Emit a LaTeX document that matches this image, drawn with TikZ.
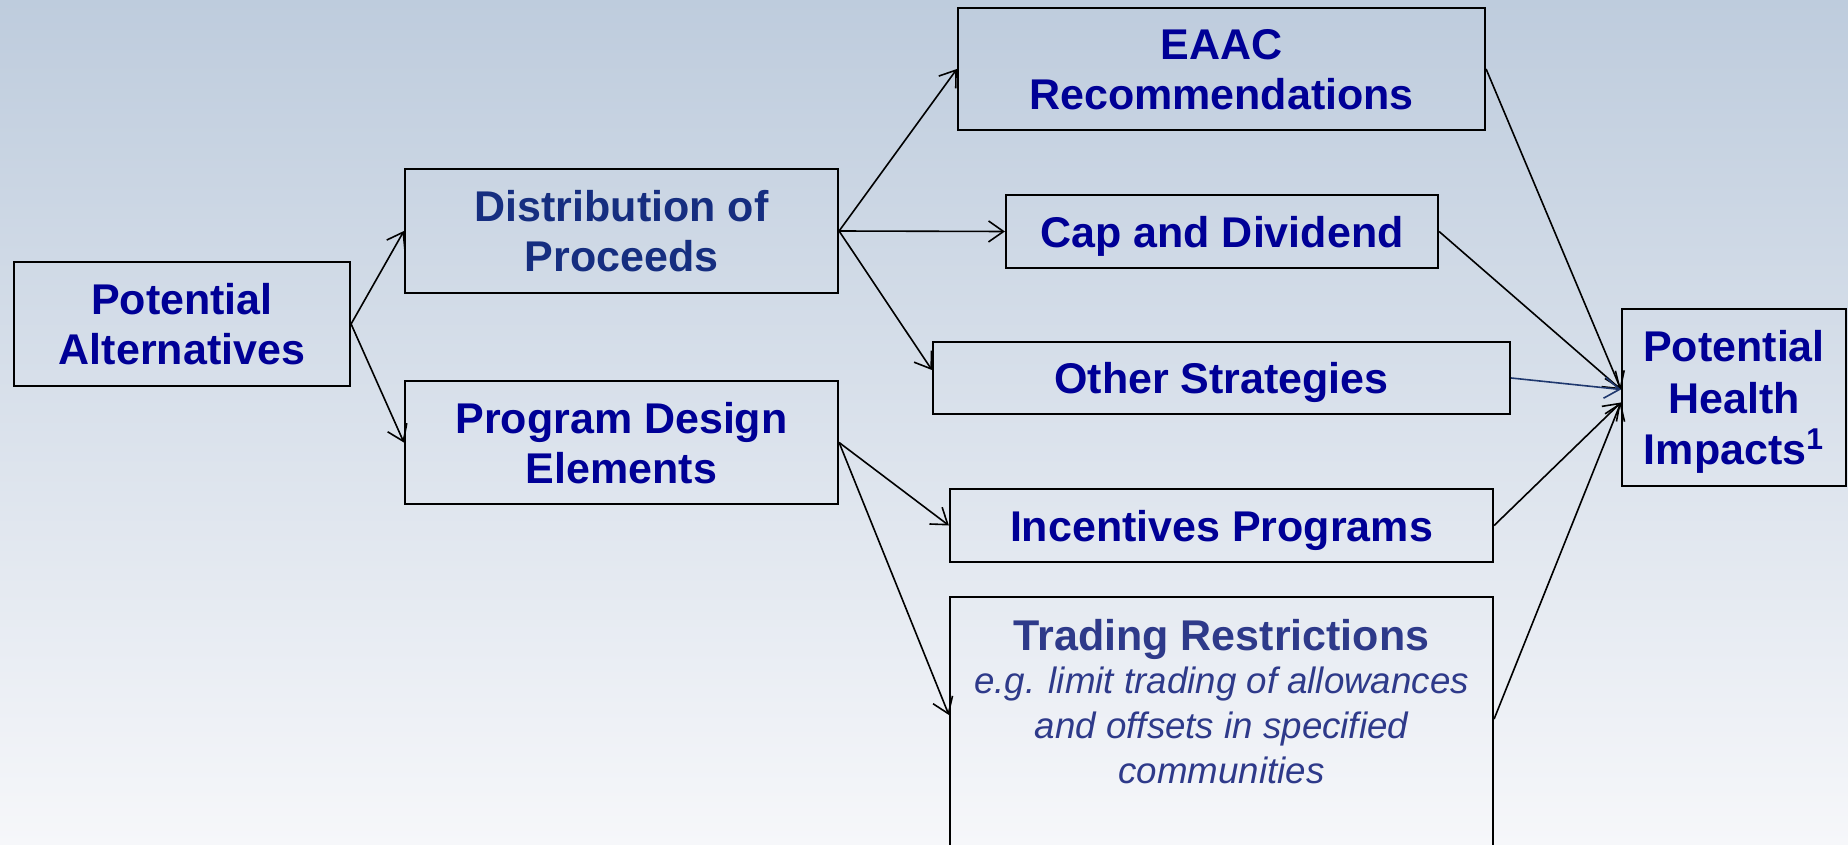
\documentclass[tikz,border=0pt]{standalone}
\usepackage{fontspec}
\setmainfont{Liberation Sans}
\usetikzlibrary{arrows.meta,calc}
\definecolor{txtblue}{RGB}{0,0,150}
\definecolor{navytxt}{RGB}{22,46,128}
\definecolor{trtxt}{RGB}{46,58,138}
\definecolor{arrnavy}{RGB}{31,56,110}
\definecolor{bgtop}{RGB}{190,204,221}
\definecolor{bgbot}{RGB}{246,247,250}
\begin{document}
\begin{tikzpicture}[x=0.5pt,y=-0.5pt,
  box/.style={draw=black,line width=1.1pt,inner sep=0pt,align=center,text depth=0pt,
    font=\fontsize{21.5}{25}\selectfont\bfseries,text=txtblue},
  conn/.style={line width=0.8pt,-{Straight Barb[length=7.5pt,width=10.5pt]}},
  trbold/.style={anchor=base,inner sep=0pt,text=trtxt,font=\fontsize{21.5}{25}\selectfont\bfseries},
  trital/.style={anchor=base,inner sep=0pt,text=trtxt,font=\fontsize{18.35}{22.5}\selectfont\itshape}]
\clip (0,0) rectangle (1848,845);
\shade[top color=bgtop,bottom color=bgbot] (0,0) rectangle (1848,845);

\node[box,minimum width=168pt,minimum height=62pt] (PA) at (182,324) {Potential\\Alternatives};
\node[box,text=navytxt,minimum width=216.5pt,minimum height=62pt] (DP) at (621.5,231) {Distribution of\\Proceeds};
\node[box,minimum width=216.5pt,minimum height=61.5pt] (PDE) at (621.5,442.5) {Program Design\\Elements};
\node[box,minimum width=263.5pt,minimum height=61pt] (EAAC) at (1221.5,69) {EAAC\\Recommendations};
\node[box,minimum width=216pt,minimum height=36.5pt] (CAP) at (1222,231.5) {Cap and Dividend};
\node[box,minimum width=288.5pt,minimum height=36pt] (OS) at (1221.5,378) {Other Strategies};
\node[box,minimum width=271.5pt,minimum height=36.5pt] (INC) at (1221.5,525.5) {Incentives Programs};
\node[box,minimum width=271.5pt,minimum height=160pt,anchor=north] (TR) at (1221.5,596) {};
\node[trbold] (TR1) at (1221.5,650) {Trading Restrictions};
\node[trital] (TR2) at (1221.5,693) {e.g. limit trading of allowances};
\node[trital] (TR3) at (1221.5,738) {and offsets in specified};
\node[trital] (TR4) at (1221.5,783) {communities};
\node[box,minimum width=112pt,minimum height=88.5pt,font=\fontsize{21.5}{25.7}\selectfont\bfseries] (PHI) at (1734,397.5) {Potential\\Health\\Impacts\textsuperscript{1}};

\coordinate (PHIa) at ($(PHI.west)+(0,-8)$);
\coordinate (PHIb) at ($(PHI.west)+(0,5)$);
\coordinate (OSin) at ($(OS.west)+(0,-8)$);
\coordinate (TRin) at ($(TR.north west)+(0,119)$);
\coordinate (TRout) at ($(TR.north east)+(0,123)$);

\draw[conn] (PA.east) -- (DP.west);
\draw[conn] (PA.east) -- (PDE.west);
\draw[conn] (DP.east) -- (EAAC.west);
\draw[conn] (DP.east) -- (CAP.west);
\draw[conn] (DP.east) -- (OSin);
\draw[conn] (PDE.east) -- (INC.west);
\draw[conn] (PDE.east) -- (TRin);
\draw[conn] (EAAC.east) -- (PHIa);
\draw[conn] (CAP.east) -- (PHIa);
\draw[conn,draw=arrnavy] (OS.east) -- (PHIa);
\draw[conn] (INC.east) -- (PHIb);
\draw[conn] (TRout) -- (PHIb);
\end{tikzpicture}
\end{document}
